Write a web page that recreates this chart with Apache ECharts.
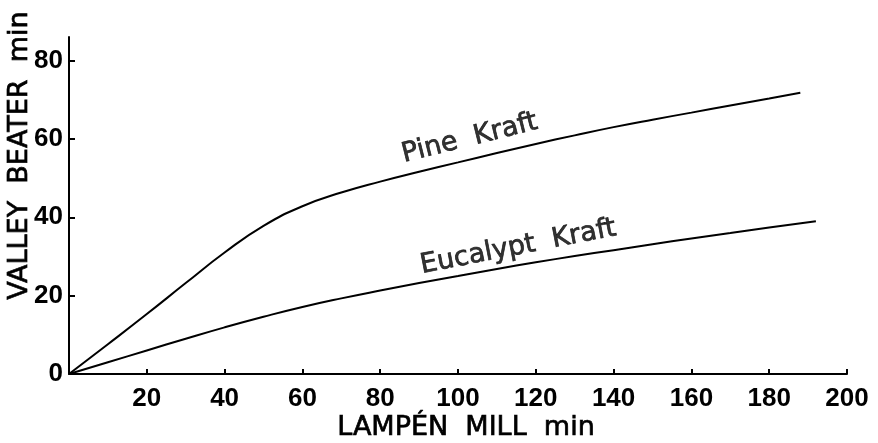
<!DOCTYPE html>
<html>
<head>
<meta charset="utf-8">
<script src="https://cdn.jsdelivr.net/npm/echarts@6/dist/echarts.min.js"></script>
<style>
  html, body { margin: 0; padding: 0; background: #fff; }
  #chart { width: 878px; height: 443px; }
</style>
</head>
<body>
<div id="chart"></div>
<script>
// Beating time in the Lampén mill vs. the Valley beater (minutes)
const lampenMin   = [0, 10, 20, 30, 40, 50, 60, 70, 80, 90, 100, 110, 120, 130, 140, 150, 160, 170, 180, 188];
const pineValley  = [0, 7.6, 15.3, 23.2, 31, 37.8, 42.8, 46.3, 49.1, 51.6, 54, 56.4, 58.7, 60.9, 63, 64.9, 66.7, 68.5, 70.3, 71.8];

const lampenMinE  = [0, 10, 20, 30, 40, 50, 60, 70, 80, 90, 100, 110, 120, 130, 140, 150, 160, 170, 180, 192];
const eucaValley  = [0, 3, 6, 9, 11.9, 14.6, 17.1, 19.3, 21.3, 23.2, 25, 26.8, 28.5, 30.1, 31.6, 33.1, 34.6, 36, 37.4, 39];

const xTicks = [20, 40, 60, 80, 100, 120, 140, 160, 180, 200];
const yTicks = [0, 20, 40, 60, 80];

// curve captions: [x, y, text, rotation]
const captions = [
  [103, 60.1, 'Pine  Kraft', 14],
  [115.5, 32.4, 'Eucalypt  Kraft', 11]
];

const numFont = '"Liberation Sans", sans-serif';
const txtFont = '"DejaVu Sans", sans-serif';
const ink = { color: '#000', textBorderColor: '#000', textBorderWidth: 0.7 };

const chart = echarts.init(document.getElementById('chart'), null, { renderer: 'canvas' });

chart.setOption({
  animation: false,
  backgroundColor: '#ffffff',
  grid: { left: 69, right: 31, top: 37, bottom: 69, containLabel: false, outerBoundsMode: 'none' },
  xAxis: {
    type: 'value', min: 0, max: 200, interval: 20,
    name: 'LAMPÉN  MILL  min',
    nameLocation: 'middle', nameGap: 40, nameMoveOverlap: false,
    nameTextStyle: Object.assign({ fontFamily: txtFont, fontSize: 27, padding: [0, 0, 0, 16] }, ink),
    axisLine: { lineStyle: { color: '#000', width: 2 } },
    axisTick: { inside: true, length: 5, lineStyle: { color: '#000', width: 2 }, customValues: xTicks },
    axisLabel: { customValues: xTicks, color: '#000', fontFamily: numFont, fontWeight: 'bold', fontSize: 26, margin: 12 },
    splitLine: { show: false }
  },
  yAxis: {
    type: 'value', min: 0, max: 86, interval: 20,
    name: 'VALLEY  BEATER  min',
    nameLocation: 'middle', nameGap: 36, nameMoveOverlap: false,
    nameTextStyle: Object.assign({ fontFamily: txtFont, fontSize: 27, padding: [0, 0, 0, 100] }, ink),
    axisLine: { lineStyle: { color: '#000', width: 2 } },
    axisTick: { inside: true, length: 6, lineStyle: { color: '#000', width: 2 }, customValues: yTicks },
    axisLabel: { customValues: yTicks, color: '#000', fontFamily: numFont, fontWeight: 'bold', fontSize: 26, margin: 6 },
    splitLine: { show: false }
  },
  series: [
    {
      name: 'Pine Kraft', type: 'line', smooth: 0.5, showSymbol: false,
      lineStyle: { color: '#000', width: 2 },
      data: lampenMin.map((x, i) => [x, pineValley[i]])
    },
    {
      name: 'Eucalypt Kraft', type: 'line', smooth: 0.5, showSymbol: false,
      lineStyle: { color: '#000', width: 2 },
      data: lampenMinE.map((x, i) => [x, eucaValley[i]])
    },
    {
      name: 'captions', type: 'scatter', symbolSize: 0, silent: true,
      data: captions.map(c => ({
        value: [c[0], c[1]],
        label: Object.assign({
          show: true, position: 'inside', formatter: c[2], rotate: c[3],
          fontFamily: txtFont, fontSize: 27
        }, ink)
      }))
    }
  ]
});
</script>
</body>
</html>
